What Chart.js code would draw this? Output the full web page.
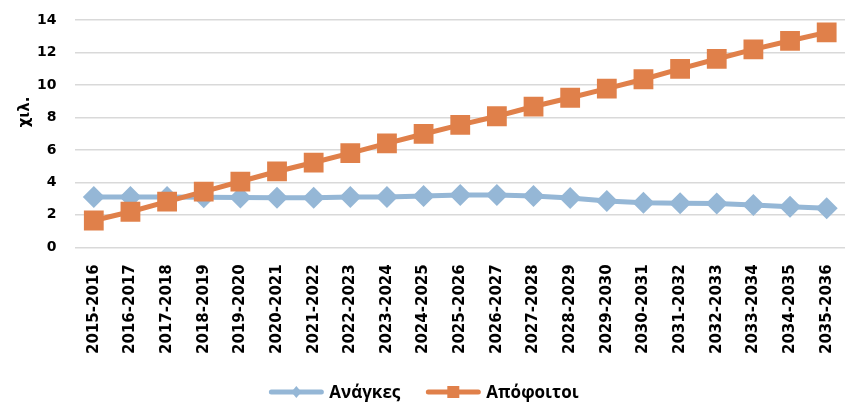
<!DOCTYPE html>
<html>
<head>
<meta charset="utf-8">
<script src="https://cdn.jsdelivr.net/npm/chart.js@4"></script>
<style>
  html, body { margin: 0; padding: 0; background: #fff; }
  #wrap { width: 847px; height: 412px; }
</style>
</head>
<body>
<div id="wrap"><canvas id="chart" width="847" height="412"></canvas></div>
<script>
const years = ['2015-2016', '2016-2017', '2017-2018', '2018-2019', '2019-2020', '2020-2021', '2021-2022',
    '2022-2023', '2023-2024', '2024-2025', '2025-2026', '2026-2027', '2027-2028', '2028-2029',
    '2029-2030', '2030-2031', '2031-2032', '2032-2033', '2033-2034', '2034-2035', '2035-2036'];
const needs = [3.1, 3.1, 3.1, 3.08, 3.06, 3.05, 3.05, 3.1, 3.1, 3.16, 3.22, 3.22, 3.16, 3.03,
    2.85, 2.75, 2.71, 2.7, 2.6, 2.5, 2.4];
const graduates = [1.65, 2.19, 2.81, 3.43, 4.05, 4.67, 5.22, 5.8, 6.4, 6.98, 7.54, 8.07, 8.67, 9.21,
    9.77, 10.35, 10.99, 11.6, 12.19, 12.72, 13.24];
const yTicks = [0, 2, 4, 6, 8, 10, 12, 14];

const blue = '#95B7D6';
const orange = '#E0804A';
const tickFont = { family: 'DejaVu Sans', size: 14, weight: 'bold' };

// y-axis title and the legend (line + marker, like the office chart) drawn by hand
const extras = {
    id: 'extras',
    afterDraw(chart) {
        const c = chart.ctx;
        c.save();
        c.fillStyle = '#000';
        c.font = 'bold 15px "DejaVu Sans"';
        c.textAlign = 'center';
        c.textBaseline = 'middle';
        c.translate(25, 112);
        c.rotate(-Math.PI / 2);
        c.fillText('χιλ.', 0, 0);
        c.restore();

        const items = [
            { text: 'Ανάγκες', color: blue, shape: 'diamond' },
            { text: 'Απόφοιτοι', color: orange, shape: 'square' }
        ];
        c.save();
        c.font = 'bold 17px "Open Sans"';
        const lineW = 56, gapText = 5, gapItem = 25;
        const widths = items.map(it => lineW + gapText + c.measureText(it.text).width);
        let x = (chart.width - widths.reduce((a, b) => a + b, 0) - gapItem) / 2;
        const y = 392;
        items.forEach((it, i) => {
            c.strokeStyle = it.color;
            c.fillStyle = it.color;
            c.lineWidth = 5;
            c.lineCap = 'round';
            c.beginPath(); c.moveTo(x + 3, y); c.lineTo(x + lineW - 3, y); c.stroke();
            const cx = x + lineW / 2;
            c.beginPath();
            if (it.shape === 'diamond') {
                c.moveTo(cx, y - 6); c.lineTo(cx + 5, y); c.lineTo(cx, y + 6); c.lineTo(cx - 5, y);
            } else {
                c.rect(cx - 6, y - 6, 12, 12);
            }
            c.fill();
            c.fillStyle = '#000';
            c.textAlign = 'left';
            c.textBaseline = 'middle';
            c.fillText(it.text, x + lineW + gapText, y + 1);
            x += widths[i] + gapItem;
        });
        c.restore();
    }
};

const ctx = document.getElementById('chart').getContext('2d');
new Chart(ctx, {
    type: 'line',
    data: {
        labels: years,
        datasets: [{
            label: 'Ανάγκες',
            data: needs,
            borderColor: blue,
            backgroundColor: blue,
            borderWidth: 5,
            pointStyle: 'rectRot',
            pointRadius: 11,
            pointBorderWidth: 0,
            order: 1
        }, {
            label: 'Απόφοιτοι',
            data: graduates,
            borderColor: orange,
            backgroundColor: orange,
            borderWidth: 5,
            pointStyle: 'rect',
            pointRadius: 14,
            pointBorderWidth: 0,
            order: 0
        }]
    },
    options: {
        responsive: false,
        animation: false,
        layout: { autoPadding: false, padding: { left: 18, right: 2, top: 20, bottom: 49 } },
        plugins: {
            tooltip: { enabled: false },
            legend: { display: false }
        },
        scales: {
            x: {
                offset: true,
                grid: { display: false },
                border: { display: false },
                afterFit: s => { s.paddingLeft = 0; s.paddingRight = 0; },
                ticks: {
                    color: '#000',
                    maxRotation: 90,
                    minRotation: 90,
                    autoSkip: false,
                    padding: 9,
                    font: { family: 'DejaVu Sans', size: 15, weight: 'bold' }
                }
            },
            y: {
                min: 0,
                max: 14,
                afterBuildTicks: axis => { axis.ticks = yTicks.map(v => ({ value: v })); },
                afterFit: s => { s.paddingTop = 0; s.paddingBottom = 0; },
                grid: { color: '#D9D9D9', lineWidth: 1.5, drawTicks: false },
                border: { display: false },
                ticks: {
                    color: '#000',
                    padding: 19,
                    font: tickFont
                }
            }
        }
    },
    plugins: [extras]
});
</script>
</body>
</html>
